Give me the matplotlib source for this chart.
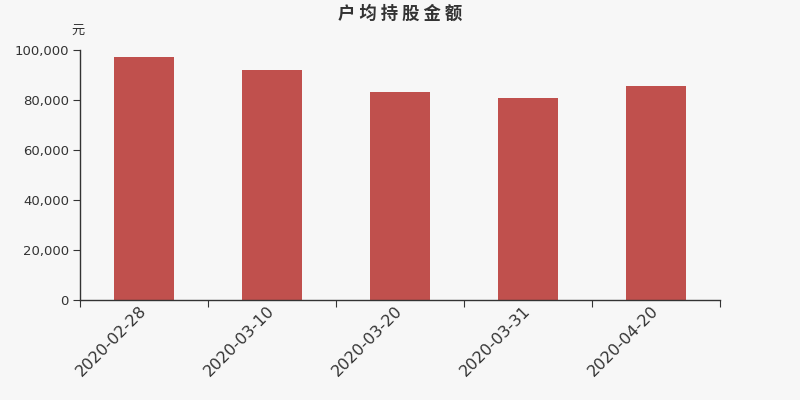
import numpy as np
import matplotlib
matplotlib.use("Agg")
import matplotlib.pyplot as plt
from matplotlib.ticker import FuncFormatter, FixedLocator

plt.rcParams['font.family'] = ['DejaVu Sans', 'Noto Sans CJK SC']

dates = ["2020-02-28", "2020-03-10", "2020-03-20", "2020-03-31", "2020-04-20"]
amount = [97200, 92000, 83200, 80800, 85800]

bg = "#f7f7f7"
fig = plt.figure(figsize=(8, 4), dpi=100, facecolor=bg)
ax = fig.add_axes([0.1, 0.25, 0.8, 0.625], facecolor=bg)

x = np.arange(len(dates))
ax.bar(x, amount, width=60 / 128, color="#c0504d", zorder=2)

ax.set_xlim(-0.5, len(dates) - 0.5)
ax.set_ylim(0, 100000)
ax.set_yticks(np.arange(0, 100001, 20000))
ax.yaxis.set_major_formatter(FuncFormatter(lambda v, p: f"{int(v):,}"))

# ticks on category boundaries, labels at centres
ax.xaxis.set_major_locator(FixedLocator(np.arange(-0.5, len(dates), 1.0)))
ax.xaxis.set_major_formatter(FuncFormatter(lambda v, p: ""))
ax.xaxis.set_minor_locator(FixedLocator(x))
ax.set_xticklabels(dates, minor=True, rotation=45, ha="right", va="center",
                   rotation_mode="anchor", fontsize=11.5, color="#333333")
ax.tick_params(axis="x", which="minor", length=0, pad=6)
ax.tick_params(axis="x", which="major", length=5, color="#333333")
ax.tick_params(axis="y", length=5, color="#333333", labelsize=9.5,
               labelcolor="#333333", pad=3)

for s in ["top", "right"]:
    ax.spines[s].set_visible(False)
for s in ["left", "bottom"]:
    ax.spines[s].set_color("#333333")
    ax.spines[s].set_linewidth(1)

fig.text(0.5, 0.965, "户 均 持 股 金 额", ha="center", va="center",
         fontsize=12.5, fontweight="bold", color="#333333",
         family=['Noto Sans CJK SC', 'DejaVu Sans'])
fig.text(0.0975, 0.925, "元", ha="center", va="center",
         fontsize=9.5, color="#333333",
         family=['Noto Sans CJK SC', 'DejaVu Sans'])

fig.savefig("out.png", dpi=100, facecolor=bg)
